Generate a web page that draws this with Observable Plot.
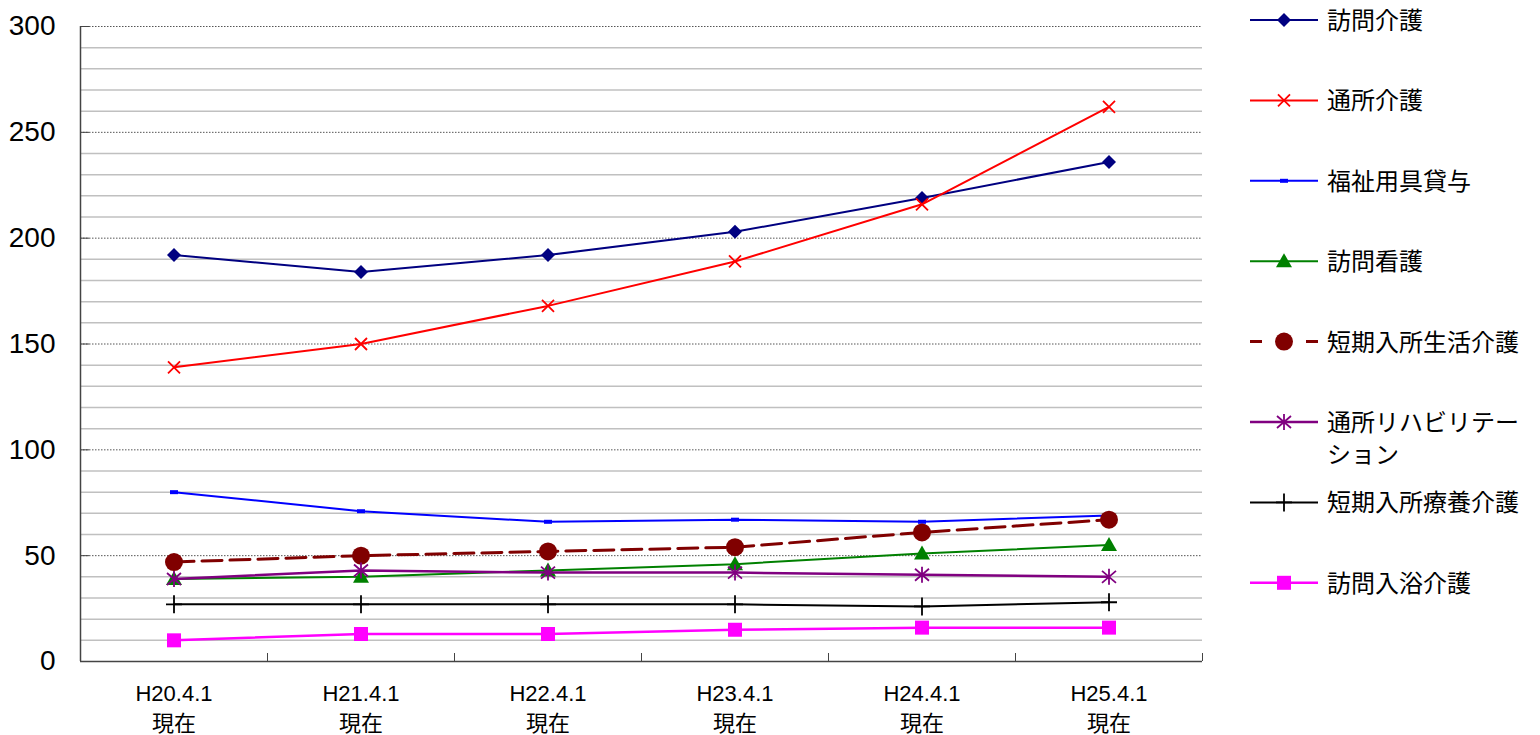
<!DOCTYPE html>
<html><head><meta charset="utf-8">
<script src="https://cdn.jsdelivr.net/npm/d3@7"></script>
<script src="https://cdn.jsdelivr.net/npm/@observablehq/plot@0.6"></script>
<style>
body{margin:0;background:#fff}
#wrap{position:relative;width:1540px;height:735px}
#chart{position:absolute;left:0;top:0}
#legend{position:absolute;left:1240px;top:0}
</style>
</head><body>
<div id="wrap"><div id="chart"></div><svg id="legend" width="300" height="735"></svg></div>
<script>
// ---- data ----
const categories = ["H20.4.1\n現在","H21.4.1\n現在","H22.4.1\n現在","H23.4.1\n現在","H24.4.1\n現在","H25.4.1\n現在"];
const seriesNames = ["訪問介護","通所介護","福祉用具貸与","訪問看護","短期入所生活介護","通所リハビリテー\nション","短期入所療養介護","訪問入浴介護"];
const houmonKaigo      = [192,184,192,203,219,236];
const tsushoKaigo      = [139,150,168,189,216,262];
const fukushiYogu      = [80,71,66,67,66,69];
const houmonKango      = [39,40,43,46,51,55];
const tankiSeikatsu    = [47,50,52,54,61,67];
const tsushoRehab      = [39,43,42,42,41,40];
const tankiRyoyo       = [27,27,27,27,26,28];
const houmonNyuyoku    = [10,13,13,15,16,16];
const seriesValues = [houmonKaigo,tsushoKaigo,fukushiYogu,houmonKango,tankiSeikatsu,tsushoRehab,tankiRyoyo,houmonNyuyoku];
const yTickLabels = [0,50,100,150,200,250,300];
const minorGrid = [10,20,30,40,60,70,80,90,110,120,130,140,160,170,180,190,210,220,230,240,260,270,280,290];
const xBoundaries = [0,1,2,3,4,5,6];

// ---- symbols ----
const sym = {
  diamond:{draw(c){c.moveTo(0,-7);c.lineTo(7,0);c.lineTo(0,7);c.lineTo(-7,0);c.closePath();}},
  times:{draw(c){c.moveTo(-6,-6);c.lineTo(6,6);c.moveTo(-6,6);c.lineTo(6,-6);}},
  bar:{draw(c){c.rect(-4,-2,8,4);}},
  triangle:{draw(c){c.moveTo(0,-8);c.lineTo(8,6);c.lineTo(-8,6);c.closePath();}},
  circle:{draw(c){c.moveTo(9,0);c.arc(0,0,9,0,2*Math.PI);}},
  asterisk:{draw(c){c.moveTo(0,-8);c.lineTo(0,8);c.moveTo(-7,-6);c.lineTo(7,6);c.moveTo(-7,6);c.lineTo(7,-6);}},
  plus:{draw(c){c.moveTo(0,-9);c.lineTo(0,9);c.moveTo(-8,0);c.lineTo(8,0);}},
  square:{draw(c){c.rect(-7,-7,14,14);}}
};
const styles = [
  {color:"#000080", symbol:sym.diamond, filled:true, width:2},
  {color:"#ff0000", symbol:sym.times, filled:false, width:2},
  {color:"#0000ff", symbol:sym.bar, filled:true, width:2},
  {color:"#008000", symbol:sym.triangle, filled:true, width:2},
  {color:"#800000", symbol:sym.circle, filled:true, width:3, dash:"20,8"},
  {color:"#800080", symbol:sym.asterisk, filled:false, width:2.5},
  {color:"#000000", symbol:sym.plus, filled:false, width:2},
  {color:"#ff00ff", symbol:sym.square, filled:true, width:2.5}
];

const font = "'Liberation Sans','Noto Sans CJK JP',sans-serif";
const marks = [
  Plot.ruleY(minorGrid, {stroke:"#c0c0c0", strokeWidth:1.5}),
  Plot.ruleY(yTickLabels.filter(v=>v>0), {stroke:"#555", strokeWidth:1, strokeDasharray:"1.5,1.5"}),
  Plot.axisY({ticks:yTickLabels, tickSize:0, tickPadding:25, fontSize:28, fill:"#000", label:null}),
  Plot.axisY({ticks:yTickLabels, tickSize:-9, tickFormat:()=>"", stroke:"#444", label:null}),
  Plot.axisX({ticks:xBoundaries, tickSize:-8, tickFormat:()=>"", stroke:"#444", label:null}),
  Plot.ruleX([0], {stroke:"#444", strokeWidth:1.5}),
  Plot.ruleY([0], {stroke:"#444", strokeWidth:1.5}),
  Plot.text(categories, {x:(d,i)=>i+0.5, y:()=>0, text:d=>d, dy:18, lineAnchor:"top", lineHeight:1.36, fontSize:22, fill:"#000"})
];
seriesValues.forEach((vals, s) => {
  const st = styles[s];
  const rows = vals.map((v,i)=>({x:i+0.5, y:v}));
  marks.push(Plot.line(rows, {x:"x", y:"y", stroke:st.color, strokeWidth:st.width, strokeDasharray:st.dash}));
  marks.push(Plot.dot(rows, {x:"x", y:"y", symbol:st.symbol,
    fill: st.filled ? st.color : "none", stroke: st.filled ? "none" : st.color, strokeWidth: st.filled ? 0 : 1.8}));
});

const chart = Plot.plot({
  width:1230, height:735,
  marginLeft:80, marginRight:28, marginTop:26, marginBottom:74,
  style:{fontFamily:font, background:"#fff"},
  x:{domain:[0,6], axis:null, label:null},
  y:{domain:[0,300], axis:null, label:null},
  marks
});
document.getElementById("chart").appendChild(chart);

// ---- legend ----
const lg = d3.select("#legend");
seriesNames.forEach((name, i) => {
  const st = styles[i];
  const y = 20 + i*80.4;
  const g = lg.append("g").attr("transform", `translate(0,${y})`);
  g.append("line").attr("x1",10).attr("x2",78).attr("y1",0).attr("y2",0)
    .attr("stroke",st.color).attr("stroke-width",st.width).attr("stroke-dasharray",st.dash ? "12,16" : null);
  const p = d3.path(); st.symbol.draw(p);
  g.append("path").attr("transform","translate(44,0)").attr("d",p.toString())
    .attr("fill", st.filled ? st.color : "none").attr("stroke", st.filled ? "none" : st.color).attr("stroke-width",1.8);
  const t = g.append("text").attr("x",87).attr("y",0).attr("dominant-baseline","central")
    .attr("font-family",font).attr("font-size",24).attr("fill","#000");
  name.split("\n").forEach((ln, k) => t.append("tspan").attr("x",87).attr("dy", k===0 ? 0 : 32).text(ln));
});
</script>
</body></html>
